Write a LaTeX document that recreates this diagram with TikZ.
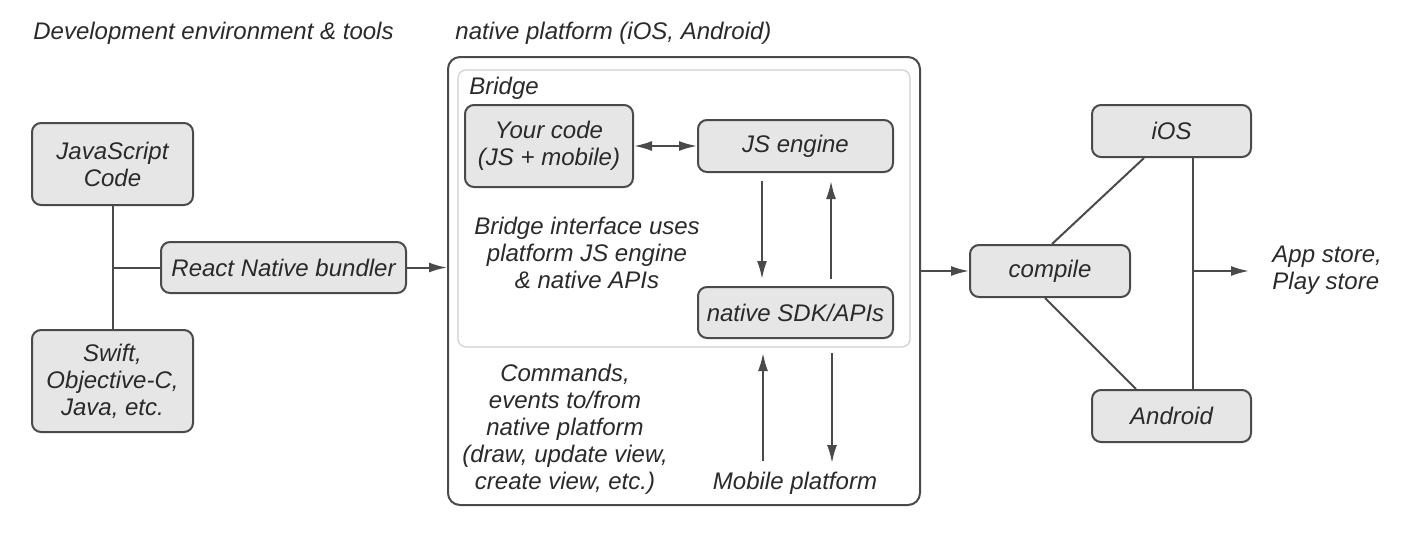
\documentclass[tikz,border=0pt]{standalone}
\usepackage{fontspec}
\setmainfont{Liberation Sans}
\usetikzlibrary{arrows.meta,calc}
\definecolor{boxfill}{HTML}{E6E6E6}
\definecolor{boxline}{HTML}{4A4A4A}
\definecolor{txt}{HTML}{2A2A2A}
\definecolor{bridgeline}{HTML}{CFCFCF}
\tikzset{
  box/.style={draw=boxline, fill=boxfill, line width=1pt, rounded corners=4.5pt, inner sep=0pt, align=center, text=txt},
  lbl/.style={inner sep=0pt, align=center, text=txt},
  conn/.style={draw=boxline, line width=1pt},
  arr/.style={conn, -{Latex[length=9pt,width=5pt]}},
  darr/.style={conn, {Latex[length=9pt,width=5pt]}-{Latex[length=9pt,width=5pt]}},
}
\begin{document}
\begin{tikzpicture}[x=0.5pt,y=-0.5pt,font=\fontsize{12}{13.5}\selectfont\itshape]
\useasboundingbox[fill=white] (0,0) rectangle (1428,558);
% titles
\node[lbl, anchor=west] (t1) at (33,33) {Development environment \& tools};
\node[lbl, anchor=west] (t2) at (455,33) {native platform (iOS, Android)};
% left
\node[box, minimum width=80.5pt, minimum height=41pt] (jsc) at (112.5,164) {JavaScript\\Code};
\node[box, minimum width=80.5pt, minimum height=51pt] (swift) at (112.5,381) {Swift,\\Objective-C,\\Java, etc.};
\node[box, minimum width=122.5pt, minimum height=25.5pt] (bund) at (283.5,267.5) {React Native bundler};
% outer and bridge
\node[draw=boxline, line width=1pt, rounded corners=6pt, minimum width=236pt, minimum height=224pt, inner sep=0pt] (outer) at (684,281) {};
\node[draw=bridgeline, line width=0.6pt, rounded corners=4pt, minimum width=226pt, minimum height=138.5pt, inner sep=0pt] (bridge) at (684,208.5) {};
\node[lbl, anchor=west] (bl) at (469,88) {Bridge};
\node[box, minimum width=84pt, minimum height=41pt] (yc) at (549,146) {Your code\\(JS + mobile)};
\node[box, minimum width=97.5pt, minimum height=26pt] (jse) at (795.5,146) {JS engine};
\node[box, minimum width=97.5pt, minimum height=25.5pt] (sdk) at (795.5,312.5) {native SDK/APIs};
\node[lbl] (bi) at (587,253) {Bridge interface uses\\platform JS engine\\\& native APIs};
\node[lbl] (cmd) at (565,429) {Commands,\\events to/from\\native platform\\(draw, update view,\\create view, etc.)};
\node[lbl] (mp) at (795,483) {Mobile platform};
% right
\node[box, minimum width=80pt, minimum height=26pt] (comp) at (1050,271) {compile};
\node[box, minimum width=79.5pt, minimum height=26pt] (ios) at (1171.5,131) {iOS};
\node[box, minimum width=79.5pt, minimum height=26pt] (andr) at (1171.5,416) {Android};
\node[lbl, align=left, anchor=west] (store) at (1272,270) {App store,\\Play store};
% coordinates
\coordinate (lj) at (jsc.south |- bund.west);
\coordinate (rj) at ([xshift=51pt]ios.south west |- comp.west);
\coordinate (m1) at (763,461);
\coordinate (m2) at (832,463);
% connectors left
\draw[conn] (jsc.south) -- (swift.north);
\draw[conn] (lj) -- (bund.west);
\draw[arr] (bund.east) -- (bund.east -| outer.west);
% bridge connectors
\draw[darr] (yc.east) -- (jse.west);
\draw[arr, shorten <=4pt, shorten >=3.5pt] ([xshift=32.5pt]jse.south west) -- ([xshift=32.5pt]sdk.north west);
\draw[arr, shorten <=3.5pt, shorten >=4pt] ([xshift=67pt]sdk.north west) -- ([xshift=67pt]jse.south west);
\draw[arr, shorten >=7pt] (m1) -- (m1 |- sdk.south);
\draw[arr, shorten <=7pt] (m2 |- sdk.south) -- (m2);
% right connectors
\draw[arr] (outer.east |- comp.west) -- (comp.west);
\draw[conn] ([xshift=1pt]comp.north) -- ([xshift=26.5pt]ios.south west);
\draw[conn] ([xshift=-2.5pt]comp.south) -- ([xshift=22.5pt]andr.north west);
\draw[conn] ([xshift=51pt]ios.south west) -- ([xshift=51pt]andr.north west);
\draw[arr] (rj) -- ++(56,0) coordinate (ra);
\end{tikzpicture}
\end{document}
